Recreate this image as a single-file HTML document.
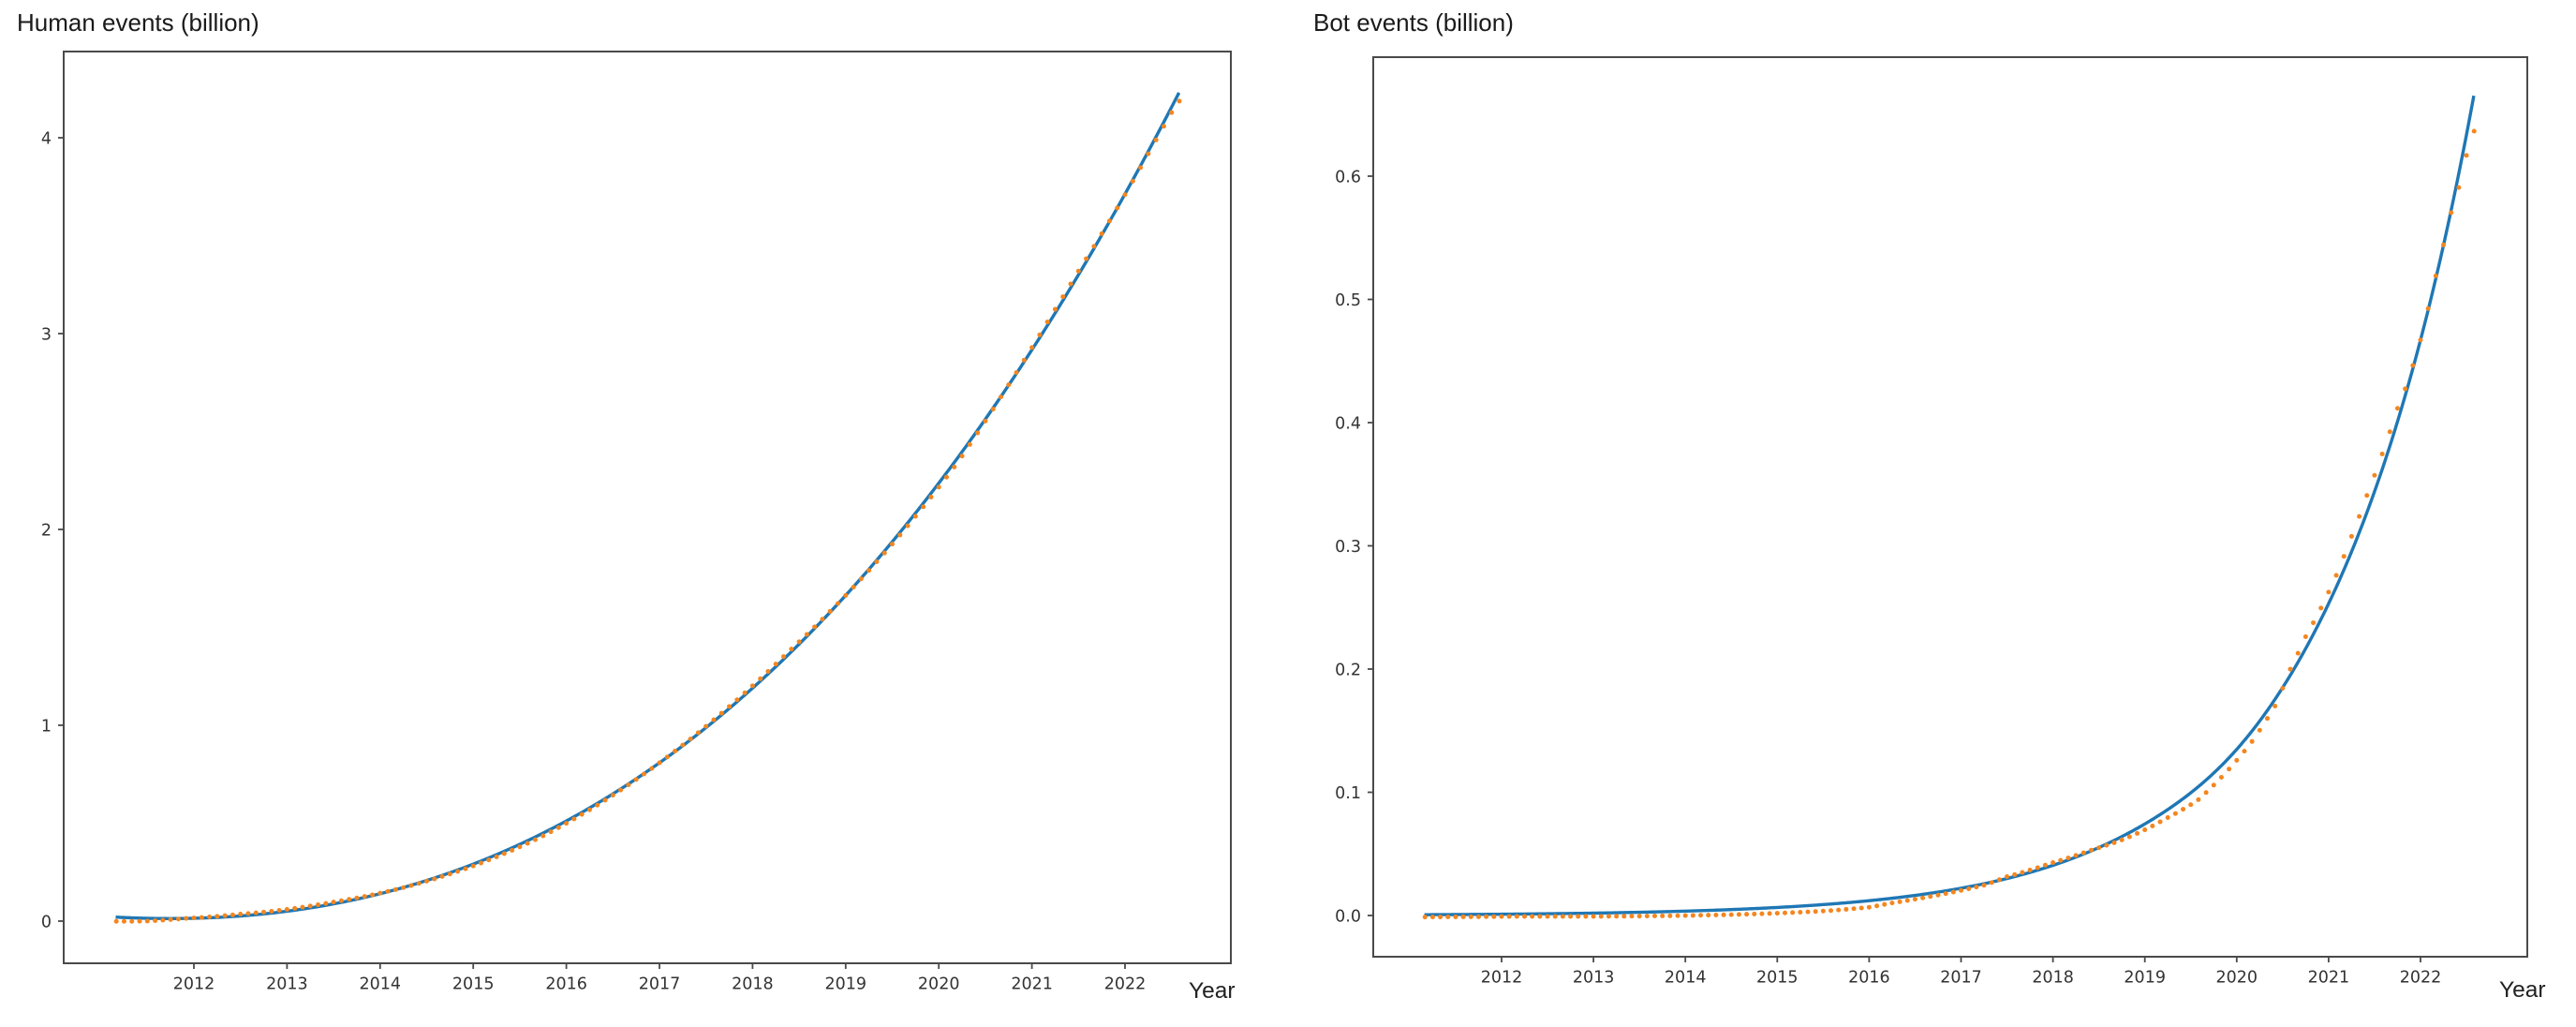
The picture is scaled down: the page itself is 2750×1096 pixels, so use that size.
<!DOCTYPE html>
<html>
<head>
<meta charset="utf-8">
<style>
html,body{margin:0;padding:0;background:#fff;}
svg{display:block}
.t{font-family:"DejaVu Sans","Liberation Sans",sans-serif;font-size:17.5px;fill:#333}
.ti{font-family:"Liberation Sans",Arial,sans-serif;font-size:26px;fill:#1a1a1a}
.yr{font-family:"Liberation Sans",Arial,sans-serif;font-size:24.5px;fill:#222}
</style>
</head>
<body>
<svg id="s" width="2750" height="1096" viewBox="0 0 2750 1096" xmlns="http://www.w3.org/2000/svg">
<rect width="2750" height="1096" fill="#fff"/>
<text class="ti" x="18" y="33">Human events (billion)</text>
<text class="ti" x="1402" y="33">Bot events (billion)</text>

<g id="axes" stroke="#4a4a4a" stroke-width="2" fill="none">
  <rect x="68" y="55" width="1246" height="973"/>
  <rect x="1466" y="61" width="1232" height="960"/>
</g>
<g id="ticks" stroke="#4a4a4a" stroke-width="1.8"></g>
<g id="labels"></g>

<text class="yr" x="1269" y="1065">Year</text>
<text class="yr" x="2668" y="1064">Year</text>

<path id="hblue" fill="none" stroke="#1f77b4" stroke-width="3.4" stroke-linejoin="round"
 d="M123.5,978.7 L157.3,980.0 L207,980.0 L256.7,977.5 L306.4,972.5 L356.1,964.6 L405.8,953.7 L455.5,939.7 L505.2,922.2 L554.9,901.0 L604.6,876.1 L654.3,847.2 L704,814.1 L753.7,776.5 L803.4,734.4 L853.1,687.4 L902.8,635.4 L952.5,578.2 L1002.2,515.6 L1051.9,447.4 L1101.6,373.3 L1151.3,293.3 L1201,207.0 L1258.7,98.9"/>
<path id="bblue" fill="none" stroke="#1f77b4" stroke-width="3.4" stroke-linejoin="round"
 d="M1520.6,976.2 L1701.1,974.5 L1799.2,972.3 L1897.3,968.4 L1995.4,961.2 L2044.5,955.6 L2093.5,947.9 L2142.6,937.5 L2191.6,923.5 L2240.7,904.4 L2289.7,878.5 L2338.8,845 L2363.3,825 L2387.8,802 L2412.3,772 L2436.9,734.5 L2461.4,692 L2485.9,643.5 L2510.4,588.4 L2535,524.3 L2559.5,449.8 L2584,362.9 L2608.5,261.7 L2623.2,193.2 L2640.9,102.2"/>
<g id="dots" fill="#f4861f"></g>
</svg>

<script>
(function(){
var NS="http://www.w3.org/2000/svg";
var ticks=document.getElementById("ticks"),labels=document.getElementById("labels"),dots=document.getElementById("dots");
function line(x1,y1,x2,y2){var l=document.createElementNS(NS,"line");l.setAttribute("x1",x1);l.setAttribute("y1",y1);l.setAttribute("x2",x2);l.setAttribute("y2",y2);ticks.appendChild(l);}
function text(x,y,s,anchor){var t=document.createElementNS(NS,"text");t.setAttribute("class","t");t.setAttribute("x",x);t.setAttribute("y",y);t.setAttribute("text-anchor",anchor);t.textContent=s;labels.appendChild(t);}
var n,k,x,y;
for(n=0;n<=10;n++){x=207+99.4*n;line(x,1028,x,1034);text(x,1055.4,String(2012+n),"middle");}
for(k=0;k<=4;k++){y=983-209*k;line(62,y,68,y);text(55,y+6.4,String(k),"end");}
for(n=0;n<=10;n++){x=1603+98.1*n;line(x,1021,x,1027);text(x,1048.4,String(2012+n),"middle");}
for(k=0;k<=6;k++){y=977-131.5*k;line(1460,y,1466,y);text(1453,y+6.4,"0."+k,"end");}

function hum(t){var u=t-2014;return 0.14+0.1191*u+0.03073*u*u+0.001276*u*u*u;}
function hx(t){return 207+(t-2012)*99.4;}
function hy(v){return 983-209*v;}
function botpx(t){return 977-1315*0.467*Math.exp(0.61*(t-2022));}
function bx(t){return 1603+(t-2012)*98.1;}
function bump(t){return 4*Math.exp(-Math.pow((t-2020.0)/0.8,2));}
function lerp(tab,t){if(t<=tab[0][0])return tab[0][1];for(var i=1;i<tab.length;i++){if(t<=tab[i][0]){var a=tab[i-1],b=tab[i];return a[1]+(b[1]-a[1])*(t-a[0])/(b[0]-a[0]);}}return tab[tab.length-1][1];}

var t0=2011.16,t1=2022.58,t,d;
d="";
for(t=t0;t<=t1+1e-9;t+=0.02){d+=(d?"L":"M")+hx(t).toFixed(2)+","+hy(hum(t)).toFixed(2)+" ";}
document.getElementById("hblue").setAttribute("d",d);
d="";
for(t=t0;t<=t1+1e-9;t+=0.02){d+=(d?"L":"M")+bx(t).toFixed(2)+","+(botpx(t)+bump(t)).toFixed(2)+" ";}
document.getElementById("bblue").setAttribute("d",d);

var hoff=[[2011.16,4.5],[2011.5,3],[2011.9,0],[2012.5,-2],[2013.5,-2],[2014.2,0],[2015,2],[2015.7,3],[2016.3,2],[2017,0],[2017.7,-2],[2018.4,-3],[2019,0],[2019.6,3],[2020.2,5],[2020.7,0],[2021.2,-4],[2021.5,-4],[2021.9,0],[2022.3,3],[2022.43,4.7],[2022.51,6],[2022.59,10]];
var boff=[[2011.16,2.5],[2012.2,2.5],[2014.2,5],[2015.57,7],[2016,7],[2016.25,5],[2016.8,3],[2017.27,1.5],[2017.5,-2],[2018,-3],[2018.4,-1],[2018.83,5],[2019.24,10],[2019.58,17],[2019.92,16],[2020.17,15],[2020.43,10],[2020.58,-4],[2020.75,-11],[2020.92,-11],[2021.09,-12],[2021.25,-16],[2021.42,-18],[2021.6,-16],[2021.75,-14],[2021.85,-6],[2022.0,0],[2022.16,-3],[2022.33,2],[2022.417,15],[2022.5,22],[2022.59,41]];
function dot(x,y){var c=document.createElementNS(NS,"circle");c.setAttribute("cx",x.toFixed(2));c.setAttribute("cy",y.toFixed(2));c.setAttribute("r","2.5");dots.appendChild(c);}
for(var i=0;i<=137;i++){
  t=2011.1667+i/12;
  dot(hx(t),hy(hum(t))+lerp(hoff,t));
  dot(bx(t),botpx(t)+lerp(boff,t));
}
})();
</script>
</body>
</html>
